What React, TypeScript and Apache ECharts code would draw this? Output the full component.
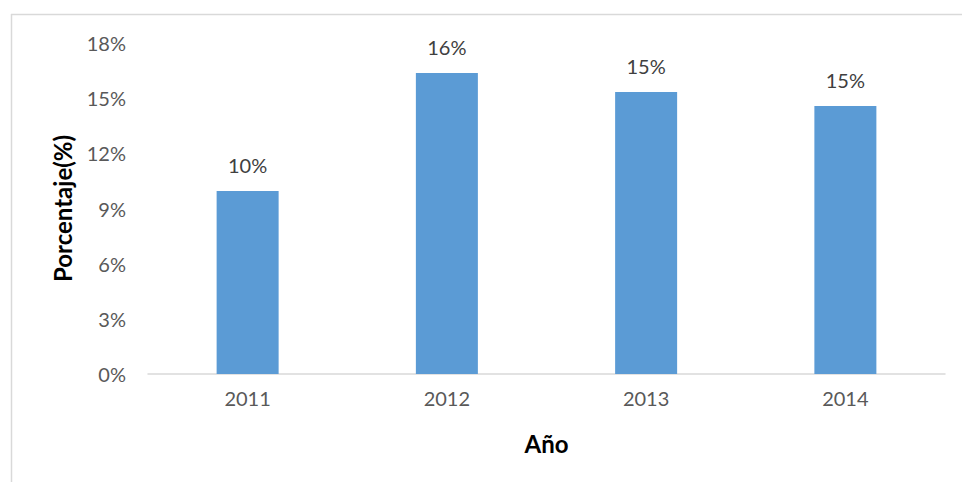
import React, { useEffect, useRef } from "react";
import * as echarts from "echarts";

const years = ["2011", "2012", "2013", "2014"];
const porcentaje = [9.95, 16.37, 15.34, 14.57];
const yTicks = { min: 0, max: 18, interval: 3 };

export default function App() {
  const ref = useRef<HTMLDivElement>(null);
  useEffect(() => {
    if (!ref.current) return;
    const chart = echarts.init(ref.current, undefined, { renderer: "svg" });
    const font = "Lato, 'Open Sans', sans-serif";
    chart.setOption({
      animation: false,
      grid: { left: 148, right: 17, top: 43, bottom: 108, containLabel: false },
      graphic: [
        { type: "line", shape: { x1: 11, y1: 14.5, x2: 962, y2: 14.5 }, style: { stroke: "#d9d9d9", lineWidth: 1.5 } },
        { type: "line", shape: { x1: 11.5, y1: 14, x2: 11.5, y2: 482 }, style: { stroke: "#d9d9d9", lineWidth: 1.5 } },
      ],
      xAxis: {
        type: "category",
        data: years,
        name: "Año",
        nameLocation: "middle",
        nameGap: 57,
        nameTextStyle: { fontFamily: font, fontSize: 24, fontWeight: "bold", color: "#000" },
        axisLine: { lineStyle: { color: "#d9d9d9", width: 1.5 } },
        axisTick: { show: false },
        axisLabel: { fontFamily: font, fontSize: 20, color: "#595959", margin: 14 },
      },
      yAxis: {
        type: "value",
        min: yTicks.min,
        max: yTicks.max,
        interval: yTicks.interval,
        name: "Porcentaje(%)",
        nameLocation: "middle",
        nameGap: 74,
        nameTextStyle: { fontFamily: font, fontSize: 24, fontWeight: "bold", color: "#000" },
        axisLine: { show: false },
        axisTick: { show: false },
        splitLine: { show: false },
        axisLabel: { fontFamily: font, fontSize: 20, color: "#595959", margin: 22, formatter: "{value}%" },
      },
      series: [
        {
          type: "bar",
          data: porcentaje,
          barWidth: 62,
          itemStyle: { color: "#5b9bd5" },
          label: {
            show: true,
            position: "top",
            distance: 16,
            fontFamily: font,
            fontSize: 20,
            color: "#404040",
            formatter: (p: any) => Math.round(p.value) + "%",
          },
        },
      ],
    });
    return () => chart.dispose();
  }, []);
  return <div ref={ref} style={{ width: 962, height: 482, position: "absolute", left: 0, top: 0 }} />;
}
